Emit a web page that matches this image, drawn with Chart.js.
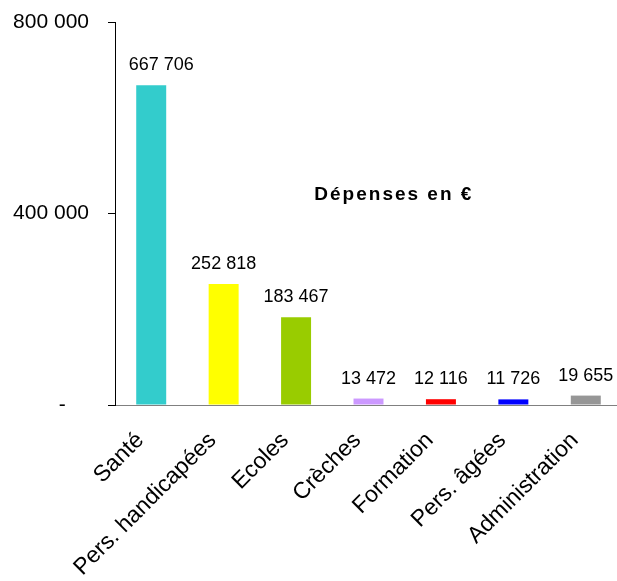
<!DOCTYPE html>
<html>
<head>
<meta charset="utf-8">
<script src="https://cdn.jsdelivr.net/npm/chart.js@4"></script>
<style>
  html, body { margin: 0; padding: 0; background: #fff; overflow: hidden; }
  #wrap { position: relative; width: 622px; height: 581px; }
</style>
</head>
<body>
<div id="wrap"><canvas id="chart"></canvas></div>
<script>
const categories = ['Santé', 'Pers. handicapées', 'Ecoles', 'Crèches', 'Formation', 'Pers. âgées', 'Administration'];
const depenses = [667706, 252818, 183467, 13472, 12116, 11726, 19655];
const barColors = ['#33CCCC', '#FFFF00', '#99CC00', '#CC99FF', '#FF0000', '#0000FF', '#969696'];
const yTicks = [0, 400000, 800000];
const chartTitle = 'Dépenses en €';

const FONT = "Arial, 'Liberation Sans', sans-serif";

function formatNumber(v) {
  return String(v).replace(/\B(?=(\d{3})+(?!\d))/g, ' ');
}

// value labels above each bar + the floating title
const labelsPlugin = {
  id: 'labels',
  afterDatasetsDraw(chart) {
    const ctx = chart.ctx;
    const meta = chart.getDatasetMeta(0);
    ctx.save();
    ctx.fillStyle = '#000';
    ctx.font = `18px ${FONT}`;
    ctx.textAlign = 'center';
    ctx.textBaseline = 'middle';
    meta.data.forEach((bar, i) => {
      // first label sits a bit to the right, away from the axis
      const dx = i === 0 ? 10 : 0;
      ctx.fillText(formatNumber(depenses[i]), bar.x + dx, bar.y - 20);
    });

    ctx.font = `bold 19px ${FONT}`;
    ctx.letterSpacing = '2px';
    const tx = chart.scales.x.getPixelForValue(3.35);
    const ty = chart.scales.y.getPixelForValue(440000);
    ctx.fillText(chartTitle, tx, ty);
    ctx.restore();
  },
};

new Chart(document.getElementById('chart'), {
  type: 'bar',
  data: {
    labels: categories,
    datasets: [{
      data: depenses,
      backgroundColor: barColors,
      borderWidth: 0,
      barPercentage: 0.414,
      categoryPercentage: 1,
    }],
  },
  options: {
    responsive: true,
    maintainAspectRatio: false,
    animation: false,
    layout: { padding: { top: 22, right: 0, bottom: 0, left: 0 } },
    plugins: {
      legend: { display: false },
      tooltip: { enabled: false },
    },
    scales: {
      x: {
        offset: true,
        grid: { display: false },
        border: { display: true, color: '#808080', width: 1 },
        ticks: {
          color: '#000',
          font: { family: FONT, size: 23 },
          minRotation: 45,
          maxRotation: 45,
          autoSkip: false,
          padding: 14,
          labelOffset: -11,
        },
        afterFit(scale) { scale.height = 176; },
      },
      y: {
        min: 0,
        max: 800000,
        afterBuildTicks(scale) { scale.ticks = yTicks.map((v) => ({ value: v })); },
        grid: { drawOnChartArea: false, drawTicks: true, tickLength: 7, color: '#000' },
        border: { display: true, color: '#000', width: 1 },
        ticks: {
          color: '#000',
          font: { family: FONT, size: 21 },
          padding: 19,
          callback: (v) => (v === 0 ? '-\u00a0\u00a0\u00a0\u00a0' : formatNumber(v)),
        },
        afterFit(scale) {
          scale.width = 115;
          scale.paddingTop = 0;
          scale.paddingBottom = 0;
        },
      },
    },
  },
  plugins: [labelsPlugin],
});
</script>
</body>
</html>
